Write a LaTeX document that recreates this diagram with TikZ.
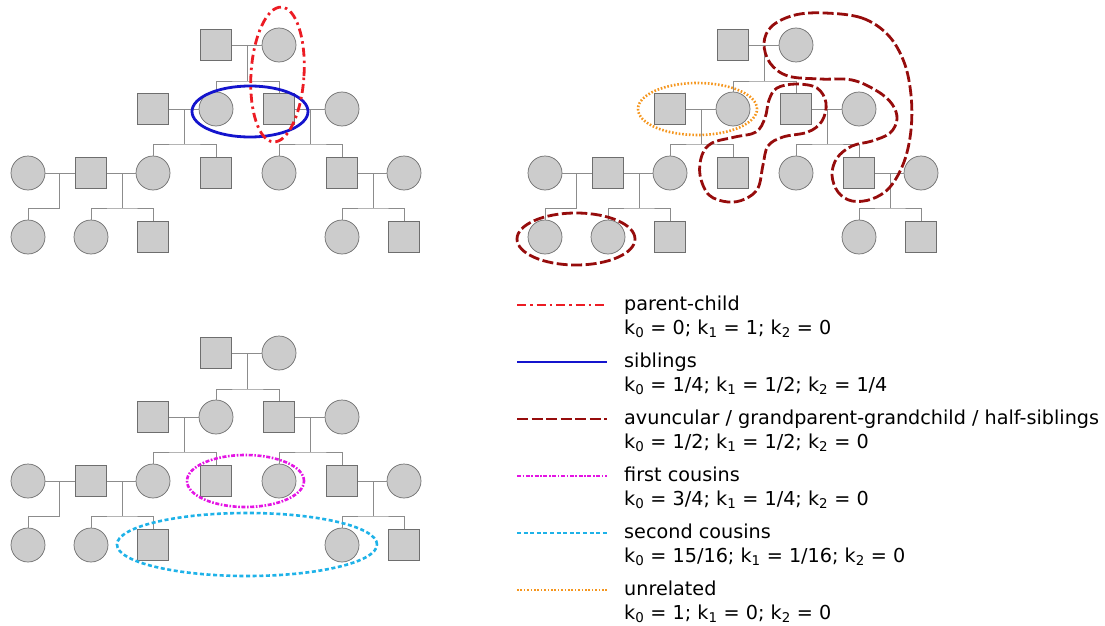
\documentclass[tikz,border=0pt]{standalone}
\usepackage{fontspec}
\setmainfont{DejaVu Sans}

\definecolor{personfill}{RGB}{204,204,204}
\definecolor{persondraw}{RGB}{110,110,110}
\definecolor{linkgray}{RGB}{140,140,140}
\definecolor{pcred}{RGB}{236,28,36}
\definecolor{sibblue}{RGB}{20,20,205}
\definecolor{avdark}{RGB}{150,12,12}
\definecolor{fcmag}{RGB}{228,20,228}
\definecolor{sccyan}{RGB}{30,178,232}
\definecolor{unorange}{RGB}{245,150,30}

\tikzset{
  person/.style={draw=persondraw, fill=personfill, line width=0.7pt, inner sep=0pt},
  male/.style={person, rectangle, minimum size=31pt},
  female/.style={person, circle, minimum size=34pt},
  link/.style={draw=linkgray, line width=0.9pt},
  parentchild/.style={draw=pcred, line width=2.8pt, dash pattern=on 9pt off 4pt on 2.5pt off 4pt},
  siblings/.style={draw=sibblue, line width=2.8pt},
  avuncular/.style={draw=avdark, line width=2.8pt, dash pattern=on 11pt off 3.5pt},
  firstcousins/.style={draw=fcmag, line width=2.6pt, dash pattern=on 4pt off 1.6pt on 1.6pt off 1.6pt},
  secondcousins/.style={draw=sccyan, line width=2.6pt, dash pattern=on 4pt off 2.6pt},
  unrelated/.style={draw=unorange, line width=2.6pt, dash pattern=on 1.6pt off 1.8pt},
  legendtext/.style={anchor=base west, inner sep=0pt, font=\fontsize{19.2}{23}\selectfont},
}

% One four-generation family tree; #1 prefixes the node names, (#2,#3) shifts it
\newcommand\familytree[3]{%
\begin{scope}[shift={(#2,#3)}]
  % generation 1
  \node[male]   (#1g1m) at (216,45) {};
  \node[female] (#1g1f) at (279,45) {};
  % generation 2
  \node[male]   (#1g2a) at (153,109) {};
  \node[female] (#1g2b) at (216,109) {};
  \node[male]   (#1g2c) at (279,109) {};
  \node[female] (#1g2d) at (342,109) {};
  % generation 3
  \node[female] (#1g3a) at (28,173) {};
  \node[male]   (#1g3b) at (91,173) {};
  \node[female] (#1g3c) at (153,173) {};
  \node[male]   (#1g3d) at (216,173) {};
  \node[female] (#1g3e) at (279,173) {};
  \node[male]   (#1g3f) at (342,173) {};
  \node[female] (#1g3g) at (404,173) {};
  % generation 4
  \node[female] (#1g4a) at (28,237) {};
  \node[female] (#1g4b) at (91,237) {};
  \node[male]   (#1g4c) at (153,237) {};
  \node[female] (#1g4d) at (342,237) {};
  \node[male]   (#1g4e) at (404,237) {};
  % junctions on the couple lines and sibship bars
  \coordinate (#1j1) at (247.5,45);  \coordinate (#1b1) at (247.5,81);
  \coordinate (#1j2) at (184.5,109); \coordinate (#1b2) at (184.5,144);
  \coordinate (#1j3) at (310.5,109); \coordinate (#1b3) at (310.5,144);
  \coordinate (#1j4) at (59.5,173);  \coordinate (#1b4) at (59.5,208);
  \coordinate (#1j5) at (122,173);   \coordinate (#1b5) at (122,208);
  \coordinate (#1j6) at (373,173);   \coordinate (#1b6) at (373,208);
  % couples
  \draw[link] (#1g1m) -- (#1g1f);
  \draw[link] (#1g2a) -- (#1g2b);
  \draw[link] (#1g2c) -- (#1g2d);
  \draw[link] (#1g3a) -- (#1g3b);
  \draw[link] (#1g3b) -- (#1g3c);
  \draw[link] (#1g3f) -- (#1g3g);
  % descent lines
  \draw[link] (#1j1) -- (#1b1);
  \draw[link] (#1g2b.north) |- (#1b1) -| (#1g2c.north);
  \draw[link] (#1j2) -- (#1b2);
  \draw[link] (#1g3c.north) |- (#1b2) -| (#1g3d.north);
  \draw[link] (#1j3) -- (#1b3);
  \draw[link] (#1g3e.north) |- (#1b3) -| (#1g3f.north);
  \draw[link] (#1j4) -- (#1b4) -| (#1g4a.north);
  \draw[link] (#1j5) -- (#1b5);
  \draw[link] (#1g4b.north) |- (#1b5) -| (#1g4c.north);
  \draw[link] (#1j6) -- (#1b6);
  \draw[link] (#1g4d.north) |- (#1b6) -| (#1g4e.north);
\end{scope}}

\begin{document}
\begin{tikzpicture}[x=1pt, y=-1pt]
  \useasboundingbox (0,0) rectangle (1105,626);

  \familytree{A}{0}{0}
  \familytree{B}{517}{0}
  \familytree{C}{0}{308}

  % relationships in the first tree
  \draw[siblings] (250,111.5) ellipse [x radius=58pt, y radius=25.5pt];
  \draw[parentchild, rotate around={-3.5:(277.5,74.5)}] (277.5,74.5) ellipse [x radius=26.5pt, y radius=67.5pt];

  % relationships in the second tree
  \draw[unrelated] (697.5,109) ellipse [x radius=59.5pt, y radius=26pt];
  \draw[avuncular] (576,239) ellipse [x radius=59pt, y radius=26pt];
  \draw[avuncular] plot[smooth cycle, tension=0.6] coordinates {
    (796,84) (817,88) (826,103) (822,121) (808,132) (783,137) (768,146)
    (763,165) (758,188) (745,199) (728,202) (709,195) (700,175) (702,155)
    (712,143) (735,137) (756,132) (765,118) (769,100) (777,88)};
  \draw[avuncular] plot[smooth cycle, tension=0.6] coordinates {
    (825,13) (862,18) (888,35) (904,62) (911,95) (911,130) (904,162)
    (890,187) (872,199) (852,201) (838,192) (832,175) (837,158) (852,146)
    (872,141) (890,133) (897,119) (892,104) (877,91) (852,80) (820,79)
    (788,76) (770,63) (764,43) (772,26) (795,15)};

  % relationships in the third tree
  \draw[firstcousins] (245.5,481) ellipse [x radius=58.5pt, y radius=26pt];
  \draw[secondcousins] (247,544.5) ellipse [x radius=130pt, y radius=31.5pt];

  % legend
  \foreach \sty/\y/\nm in {parentchild/305/l1, siblings/362/l2, avuncular/419/l3,
                           firstcousins/476/l4, secondcousins/533/l5, unrelated/590/l6}{
    \coordinate (\nm a) at (517,\y);
    \coordinate (\nm b) at (607,\y);
    \draw[\sty, line width=2.4pt] (\nm a) -- (\nm b);
  }
  \node[legendtext] (t1) at (624,310) {parent-child};
  \node[legendtext] (k1) at (624,334) {k\textsubscript{0} = 0; k\textsubscript{1} = 1; k\textsubscript{2} = 0};
  \node[legendtext] (t2) at (624,367) {siblings};
  \node[legendtext] (k2) at (624,391) {k\textsubscript{0} = 1/4; k\textsubscript{1} = 1/2; k\textsubscript{2} = 1/4};
  \node[legendtext] (t3) at (624,424) {avuncular / grandparent-grandchild / half-siblings};
  \node[legendtext] (k3) at (624,448) {k\textsubscript{0} = 1/2; k\textsubscript{1} = 1/2; k\textsubscript{2} = 0};
  \node[legendtext] (t4) at (624,481) {first cousins};
  \node[legendtext] (k4) at (624,505) {k\textsubscript{0} = 3/4; k\textsubscript{1} = 1/4; k\textsubscript{2} = 0};
  \node[legendtext] (t5) at (624,538) {second cousins};
  \node[legendtext] (k5) at (624,562) {k\textsubscript{0} = 15/16; k\textsubscript{1} = 1/16; k\textsubscript{2} = 0};
  \node[legendtext] (t6) at (624,595) {unrelated};
  \node[legendtext] (k6) at (624,619) {k\textsubscript{0} = 1; k\textsubscript{1} = 0; k\textsubscript{2} = 0};
\end{tikzpicture}
\end{document}
